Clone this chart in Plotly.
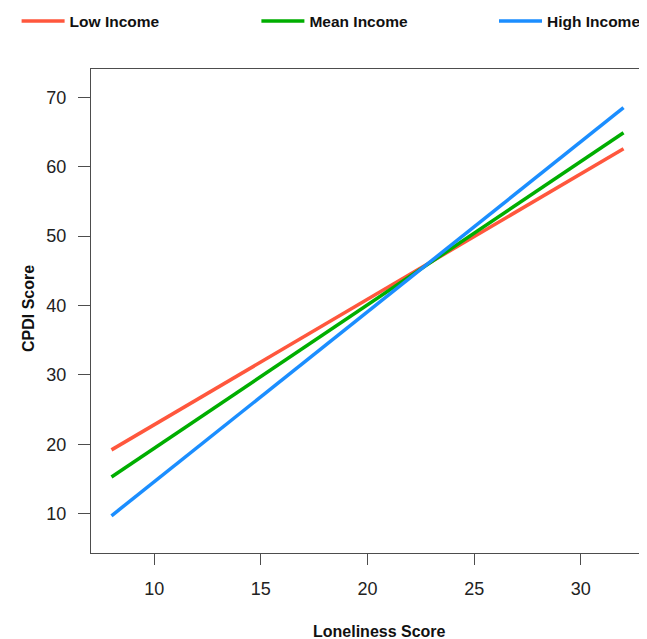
import plotly.graph_objects as go

loneliness = [8, 32]
low_income = [19.2, 62.6]
mean_income = [15.3, 64.9]
high_income = [9.7, 68.5]

series = [
    ("Low Income", low_income, "#FF573D"),
    ("Mean Income", mean_income, "#00AE00"),
    ("High Income", high_income, "#1B8EFF"),
]

# page has an 8px body margin; figure coordinates = reference - 8
W, H = 639, 631
L, R, T, B = 83, 3, 61, 86
pw, ph = W - L - R, H - T - B

legend_names = ["legend", "legend2", "legend3"]
legend_left_px = [8.6, 248.4, 486]

fig = go.Figure()
for (name, vals, col), lg in zip(series, legend_names):
    fig.add_trace(go.Scatter(x=loneliness, y=vals, mode="lines", name="<b>" + name + "</b>",
                             line=dict(color=col, width=3.5), legend=lg))

axis_common = dict(showline=True, mirror=True, linecolor="#4d4d4d", linewidth=1.3,
                   ticks="outside", tickcolor="#4d4d4d", tickwidth=1.3,
                   showgrid=False, zeroline=False, automargin=False,
                   tickfont=dict(family="Liberation Sans, Arial", size=18, color="#222222"))

title_font = dict(family="Liberation Sans, Arial", size=16, color="#111111")

legend_layout = {}
for lg, px in zip(legend_names, legend_left_px):
    legend_layout[lg] = dict(orientation="h", x=(px - L) / pw, xanchor="left",
                             y=1 + (T - 13.5) / ph, yanchor="middle",
                             font=dict(family="Liberation Sans, Arial", size=15.5, color="#111111"),
                             itemwidth=43, bgcolor="rgba(0,0,0,0)")

fig.update_layout(
    width=W, height=H,
    margin=dict(l=L, r=R, t=T, b=B, autoexpand=False),
    plot_bgcolor="white", paper_bgcolor="white",
    xaxis=dict(range=[7.04, 32.96], tickvals=[10, 15, 20, 25, 30], ticklen=11,
               ticklabelstandoff=8, **axis_common),
    yaxis=dict(range=[4.34, 74.08], tickvals=[10, 20, 30, 40, 50, 60, 70], ticklen=12,
               ticklabelstandoff=8, **axis_common),
    showlegend=True,
    annotations=[
        dict(text="<b>Loneliness Score</b>", xref="paper", yref="paper",
             x=(371 - L) / pw, y=-(623 - (T + ph)) / ph, xanchor="center", yanchor="middle",
             showarrow=False, font=title_font),
        dict(text="<b>CPDI Score</b>", xref="paper", yref="paper",
             x=-(L - 20) / pw, y=1 - (301 - T) / ph, xanchor="center", yanchor="middle",
             showarrow=False, textangle=-90, font=title_font),
    ],
    **legend_layout,
)

fig.write_html("out.html")
